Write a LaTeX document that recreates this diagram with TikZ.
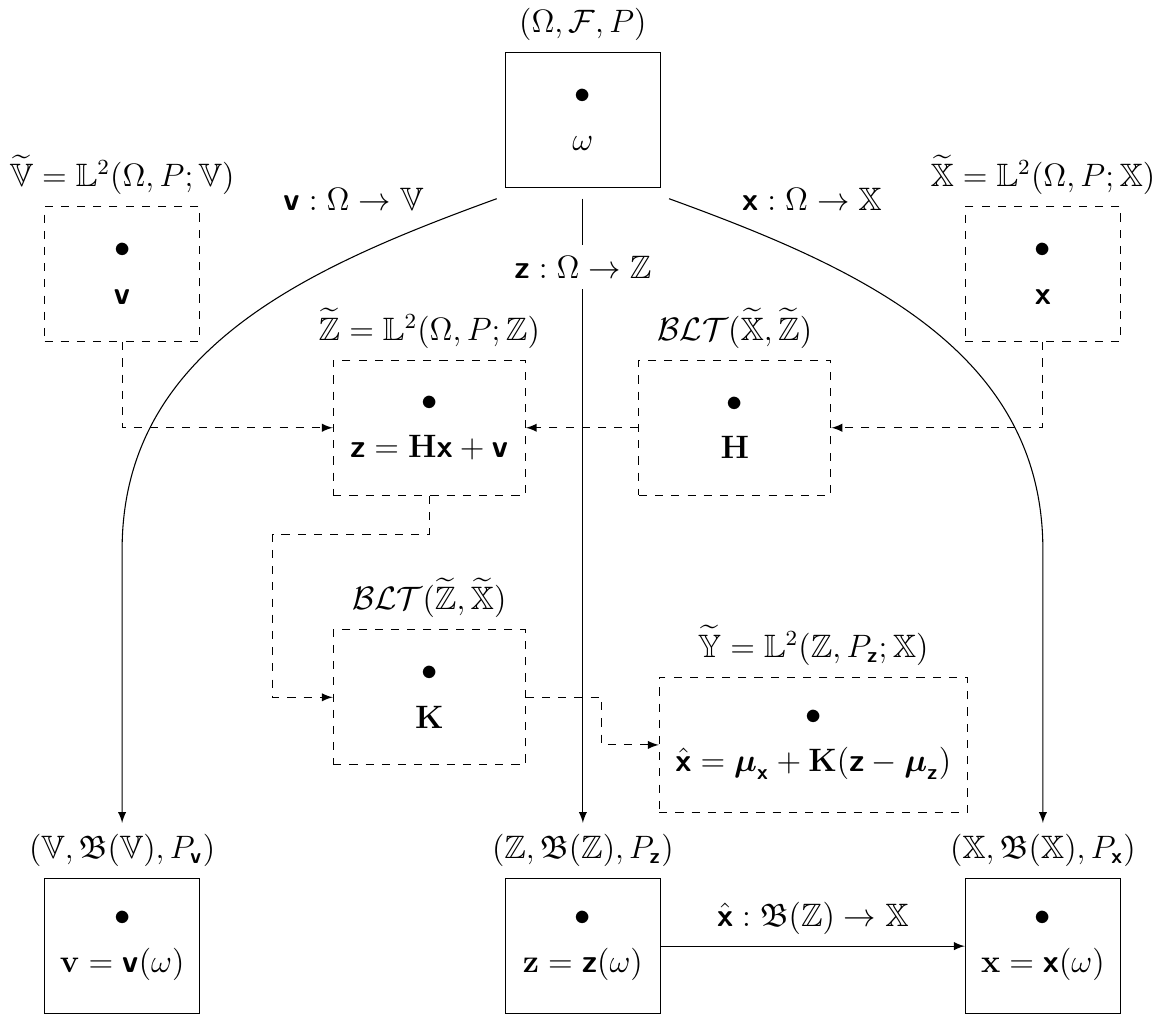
\documentclass[12pt,tikz,border=0pt]{standalone}
\usepackage{amsmath,amssymb}
\DeclareMathAlphabet{\mathsfbf}{OT1}{cmss}{bx}{n}
\newcommand{\rv}[1]{\mathsfbf{#1}} % random variables in sans bold
\newcommand{\elem}[1]{$\bullet$\\[3pt]$#1$}
\begin{document}
\begin{tikzpicture}[>=latex]
\tikzset{
  sbox/.style={draw, align=center, minimum width=2.02cm, minimum height=1.76cm},
  dbox/.style={sbox, dashed},
  wide/.style={minimum width=2.5cm},
  link/.style={dashed, ->},
}
\useasboundingbox (0,0) rectangle (15.17,-13.23);
% sample space
\node[sbox, label={[name=omlab]above:$(\Omega,\mathcal{F},P)$}] (om) at (7.59,-1.56) {\elem{\omega}};
% L2 spaces of the random variables
\node[dbox, label={[name=vtlab]above:$\widetilde{\mathbb{V}}=\mathbb{L}^2(\Omega,P;\mathbb{V})$}] (vt) at (1.59,-3.57) {\elem{\rv{v}}};
\node[dbox, label={[name=xtlab]above:$\widetilde{\mathbb{X}}=\mathbb{L}^2(\Omega,P;\mathbb{X})$}] (xt) at (13.58,-3.57) {\elem{\rv{x}}};
\node[dbox, wide, label={[name=ztlab]above:$\widetilde{\mathbb{Z}}=\mathbb{L}^2(\Omega,P;\mathbb{Z})$}] (zt) at (5.59,-5.57) {\elem{\rv{z}=\mathbf{H}\rv{x}+\rv{v}}};
\node[dbox, wide, label={[name=hlab]above:$\mathcal{BLT}(\widetilde{\mathbb{X}},\widetilde{\mathbb{Z}})$}] (h) at (9.57,-5.57) {\elem{\mathbf{H}}};
\node[dbox, wide, label={[name=klab]above:$\mathcal{BLT}(\widetilde{\mathbb{Z}},\widetilde{\mathbb{X}})$}] (k) at (5.59,-9.08) {\elem{\mathbf{K}}};
\node[dbox, minimum width=4.01cm, label={[name=ytlab]above:$\widetilde{\mathbb{Y}}=\mathbb{L}^2(\mathbb{Z},P_{\rv{z}};\mathbb{X})$}] (yt) at (10.59,-9.70)
  {\elem{\hat{\rv{x}}=\boldsymbol{\mu}_{\rv{x}}+\mathbf{K}(\rv{z}-\boldsymbol{\mu}_{\rv{z}})}};
% image spaces
\node[sbox, label={[name=vblab]above:$(\mathbb{V},\mathfrak{B}(\mathbb{V}),P_{\rv{v}})$}] (vb) at (1.59,-12.32) {\elem{\mathbf{v}=\rv{v}(\omega)}};
\node[sbox, label={[name=zblab]above:$(\mathbb{Z},\mathfrak{B}(\mathbb{Z}),P_{\rv{z}})$}] (zb) at (7.59,-12.32) {\elem{\mathbf{z}=\rv{z}(\omega)}};
\node[sbox, label={[name=xblab]above:$(\mathbb{X},\mathfrak{B}(\mathbb{X}),P_{\rv{x}})$}] (xb) at (13.58,-12.32) {\elem{\mathbf{x}=\rv{x}(\omega)}};

\coordinate (vbend) at (1.59,-7.16);
\coordinate (xbend) at (13.58,-7.16);

% random variables as maps
\draw[->] ([shift={(-3pt,-4pt)}]om.south west) to[out=200,in=90]
  node[pos=0.11, above left] (vmap) {$\rv{v}:\Omega\to\mathbb{V}$} (vbend) -- (vblab);
\draw[->] ([shift={(3pt,-4pt)}]om.south east) to[out=-20,in=90]
  node[pos=0.11, above right] (xmap) {$\rv{x}:\Omega\to\mathbb{X}$} (xbend) -- (xblab);
\draw[->] ([yshift=-4pt]om.south) -- node[pos=0.11, fill=white] (zmap) {$\rv{z}:\Omega\to\mathbb{Z}$} (zblab);

% operators
\draw[link] (vt.south) |- (zt.west);
\draw[link] (xt.south) |- (h.east);
\draw[link] (h.west) -- (zt.east);
\draw[link] (zt.south) -- ++(0,-0.5) -| ([xshift=-0.78cm]k.west) -- (k.west);
\draw[link] (k.east) -- ++(0.99,0) |- (yt.west);

% estimator
\draw[->] (zb.east) -- node[above] (xhat) {$\hat{\rv{x}}:\mathfrak{B}(\mathbb{Z})\to\mathbb{X}$} (xb.west);
\end{tikzpicture}
\end{document}
